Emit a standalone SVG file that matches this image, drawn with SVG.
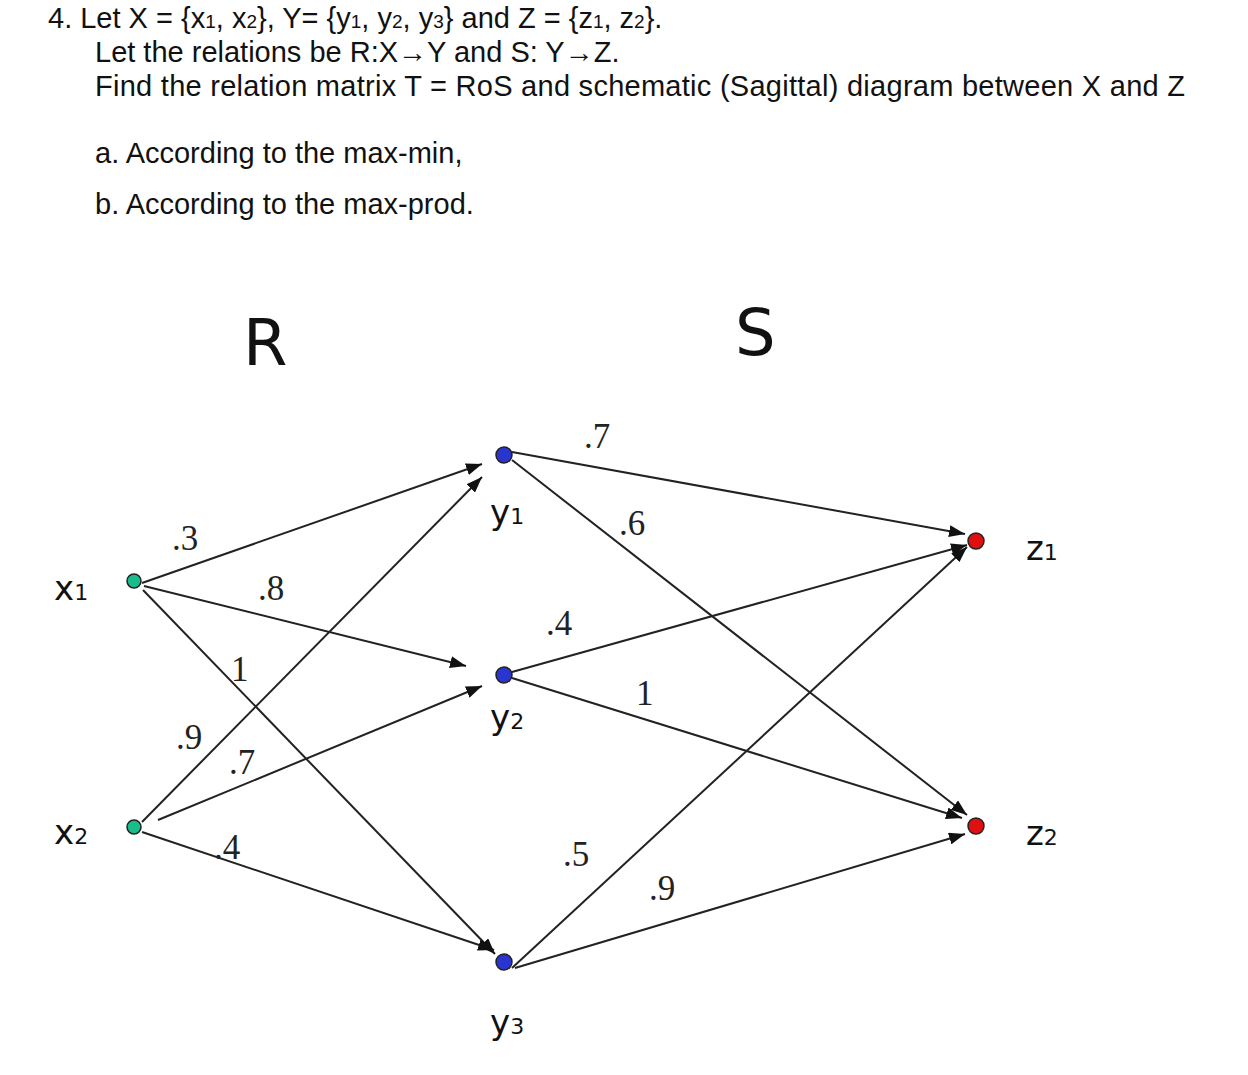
<svg xmlns="http://www.w3.org/2000/svg" width="1248" height="1075" viewBox="0 0 1248 1075">
<style>
.h{font-family:"Liberation Sans",Arial,sans-serif;font-size:29px;fill:#111}
.n{font-family:"DejaVu Sans","Open Sans",sans-serif;font-size:34px;fill:#111}
.b{font-family:"DejaVu Sans","Open Sans",sans-serif;font-size:64px;fill:#111}
.w{font-family:"Liberation Serif","Times New Roman",serif;font-size:35px;fill:#222}
.e{stroke:#222;stroke-width:2;fill:none;marker-end:url(#a)}
.g{fill:#1abc8c;stroke:#222;stroke-width:1.5}
.bl{fill:#2a35d0;stroke:#222;stroke-width:1.5}
.r{fill:#e01010;stroke:#222;stroke-width:1.5}
</style>
<defs><marker id="a" markerWidth="16" markerHeight="12" refX="16" refY="6" orient="auto" markerUnits="userSpaceOnUse" viewBox="0 0 16 12"><path d="M0,0L16,6L0,12z" fill="#111"/></marker></defs>
<rect width="1248" height="1075" fill="#fff"/>
<text class="h" x="48" y="28">4.  Let X = {x<tspan font-size="19">1</tspan>, x<tspan font-size="19">2</tspan>}, Y= {y<tspan font-size="19">1</tspan>, y<tspan font-size="19">2</tspan>, y<tspan font-size="19">3</tspan>} and Z = {z<tspan font-size="19">1</tspan>, z<tspan font-size="19">2</tspan>}.</text>
<text class="h" x="95" y="62">Let the relations be R:X→Y and S: Y→Z.</text>
<text class="h" x="95" y="96" textLength="1090">Find the relation matrix T = RoS and schematic (Sagittal) diagram between X and Z</text>
<text class="h" x="95" y="163">a.  According to the max-min,</text>
<text class="h" x="95" y="214">b.  According to the max-prod.</text>
<text class="b" x="243" y="365">R</text>
<text class="b" x="735" y="355">S</text>
<g id="connectors">
<line class="e" x1="142" y1="583" x2="482" y2="464"/>
<line class="e" x1="144" y1="586" x2="466" y2="666"/>
<line class="e" x1="143" y1="590" x2="495" y2="954"/>
<line class="e" x1="142" y1="822" x2="482" y2="477"/>
<line class="e" x1="158" y1="820" x2="482" y2="686"/>
<line class="e" x1="142" y1="832" x2="494" y2="950"/>
<line class="e" x1="512" y1="452" x2="965" y2="534"/>
<line class="e" x1="512" y1="460" x2="967" y2="815"/>
<line class="e" x1="512" y1="672" x2="967" y2="545"/>
<line class="e" x1="512" y1="678" x2="962" y2="818"/>
<line class="e" x1="512" y1="968" x2="967" y2="547"/>
<line class="e" x1="515" y1="968" x2="965" y2="834"/>
</g>
<g class="w">
<text x="172" y="550">.3</text><text x="258" y="600">.8</text><text x="231" y="681">1</text>
<text x="176" y="749">.9</text><text x="229" y="774">.7</text><text x="214" y="859">.4</text>
<text x="584" y="448">.7</text><text x="619" y="535">.6</text><text x="546" y="635">.4</text>
<text x="636" y="705">1</text><text x="563" y="866">.5</text><text x="649" y="900">.9</text>
</g>
<g id="x1"><circle class="g" cx="134" cy="581" r="7"/><text class="n" x="54" y="600">x<tspan font-size="22">1</tspan></text></g>
<g id="x2"><circle class="g" cx="134" cy="827" r="7"/><text class="n" x="54" y="844">x<tspan font-size="22">2</tspan></text></g>
<g id="y1"><circle class="bl" cx="504" cy="455" r="8"/><text class="n" x="490" y="524">y<tspan font-size="22">1</tspan></text></g>
<g id="y2"><circle class="bl" cx="504" cy="675" r="8"/><text class="n" x="490" y="729">y<tspan font-size="22">2</tspan></text></g>
<g id="y3"><circle class="bl" cx="504" cy="962" r="8"/><text class="n" x="490" y="1034">y<tspan font-size="22">3</tspan></text></g>
<g id="z1"><circle class="r" cx="976" cy="541" r="8"/><text class="n" x="1026" y="560">z<tspan font-size="22">1</tspan></text></g>
<g id="z2"><circle class="r" cx="976" cy="826" r="8"/><text class="n" x="1026" y="845">z<tspan font-size="22">2</tspan></text></g>
</svg>
